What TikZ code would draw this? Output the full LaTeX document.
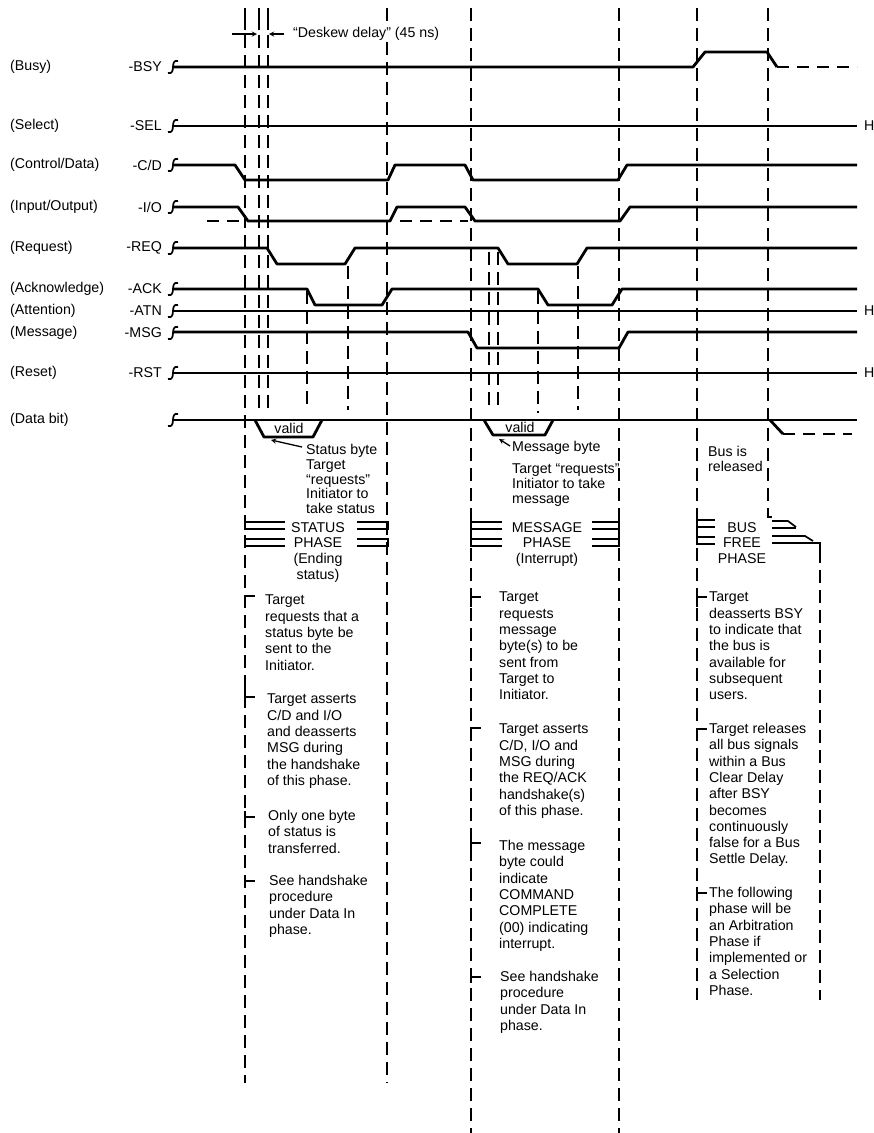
\documentclass[tikz,border=0pt]{standalone}
\usepackage{fontspec}
\setmainfont{Liberation Sans}
\newcommand{\sigfont}{\fontsize{14.2}{16.3}\selectfont}
\newcommand{\brk}[1]{\draw[line width=1.7pt] (178,#1-6) .. controls (169,#1-8) and (177,#1+8) .. (168,#1+6);}
\newcommand{\phasemark}[3]{\draw[bar] (#1+#3,#2) -- (#1,#2) -- (#1,#2+7) -- (#1+#3,#2+7);}
\newcommand{\tickdown}[2]{\draw[bar] (#1,#2+10) -- (#1,#2) -- (#1+10,#2);}
\newcommand{\tickup}[2]{\draw[bar] (#1,#2-10) -- (#1,#2) -- (#1+10,#2);}
\newcommand{\tickmid}[2]{\draw[bar] (#1,#2-6) -- (#1,#2+6) (#1,#2) -- (#1+10,#2);}
\tikzset{
    every node/.style={font=\sigfont, inner sep=0pt},
    desc/.style={anchor=west},
    signame/.style={anchor=east},
    sig/.style={line width=2.8pt, line join=round},
    sigdash/.style={sig, dash pattern=on 12pt off 8pt},
    grid/.style={line width=1.9pt, dash pattern=on 13pt off 7pt},
    bar/.style={line width=1.7pt},
    pointer/.style={->, >=stealth, line width=1.3pt},
    note/.style={anchor=north west, align=left},
    title/.style={anchor=north, align=center, font=\fontsize{14.2}{15.7}\selectfont}
}
\begin{document}
\begin{tikzpicture}[x=1pt,y=-1pt]
\useasboundingbox (0,0) rectangle (874,1133);

\foreach \id/\y/\desc/\sname in {bsy/67/(Busy)/-BSY, sel/126/(Select)/-SEL, cd/165/{(Control/Data)}/{-C/D},
    io/207/{(Input/Output)}/{-I/O}, req/248/(Request)/-REQ, ack/289/(Acknowledge)/-ACK,
    atn/311/(Attention)/-ATN, msg/333/(Message)/-MSG, rst/373/(Reset)/-RST}{
    \node[desc] (desc-\id) at (10,\y) {\desc};
    \node[signame] (name-\id) at (162,\y) {\sname};
    \brk{\y}
}
\node[desc] (desc-data) at (10,420) {(Data bit)};
\brk{420}

\foreach \x/\ya/\yb in {245/35/1083, 259/35/410, 268/35/410, 307/291/410, 348/266/410, 387/42/1083,
    471/8/1133, 489/252/410, 498/252/410, 538/291/413, 578/266/410, 619/8/1133,
    697/8/1000, 768/8/513, 820/550/1000}
    \draw[grid] (\x,\ya) -- (\x,\yb);
\foreach \x in {245,259,268}
    \draw[bar] (\x,8) -- (\x,30);
\draw[grid] (387,8) -- (387,28);

\draw[pointer] (232,34) -- (257,34);
\draw[pointer] (284,34) -- (269,34);
\node[desc] (deskew) at (293,34) {``Deskew delay'' (45 ns)};

\draw[sig] (173,67) -- (693,67) -- (705,52) -- (767,52) -- (777,67);
\draw[sigdash] (777,67) -- (857,67);
\draw[sig] (173,126) -- (857,126);
\draw[sig] (173,165) -- (235,165) -- (245,180) -- (388,180) -- (395,165) -- (465,165) -- (473,180) -- (618,180) -- (627,165) -- (857,165);
\draw[sig] (173,207) -- (238,207) -- (248,221) -- (390,221) -- (397,207) -- (465,207) -- (475,221) -- (620,221) -- (630,207) -- (857,207);
\draw[sigdash] (207,221) -- (243,221);
\draw[sigdash] (400,221) -- (468,221);
\draw[sig] (173,248) -- (267,248) -- (277,264) -- (345,264) -- (355,248) -- (498,248) -- (508,264) -- (577,264) -- (587,248) -- (857,248);
\draw[sig] (173,289) -- (307,289) -- (315,305) -- (382,305) -- (392,289) -- (538,289) -- (548,305) -- (612,305) -- (622,289) -- (857,289);
\draw[sig] (173,311) -- (857,311);
\draw[sig] (173,332) -- (468,332) -- (477,348) -- (619,348) -- (628,332) -- (857,332);
\draw[sig] (173,373) -- (857,373);
\draw[sig] (173,420) -- (857,420);
\draw[sig] (255,420) -- (264,437) -- (313,437) -- (322,420);
\draw[sig] (484,420) -- (493,435) -- (545,435) -- (553,420);
\draw[sig] (770,420) -- (783,434);
\draw[sigdash] (783,434) -- (852,434);
\foreach \y/\id in {126/sel, 311/atn, 373/rst}
    \node[desc] (high-\id) at (864,\y) {H};

\node (valid-status) at (289,428) {valid};
\node (valid-msg) at (520,427) {valid};

\node[note, font=\fontsize{14.2}{14.8}\selectfont] (status-byte) at (306,444) {Status byte\\Target\\``requests''\\Initiator to\\take status};
\draw[pointer] (302,447) -- (271,440);
\node[desc] (msg-byte) at (512,448) {Message byte};
\draw[pointer] (510,446) -- (499,439);
\node[note, font=\fontsize{14.2}{15}\selectfont] (msg-take) at (512,464) {Target ``requests''\\Initiator to take\\message};
\node[note, font=\fontsize{14.2}{15}\selectfont] (released) at (708,446) {Bus is\\released};

\phasemark{245}{522}{40}
\phasemark{245}{539}{40}
\phasemark{388}{522}{-31}
\phasemark{388}{539}{-31}
\node[title] (status-phase) at (318,522) {STATUS\\PHASE\\(Ending\\status)};
\phasemark{471}{522}{31}
\phasemark{471}{539}{31}
\phasemark{619}{522}{-27}
\phasemark{619}{539}{-27}
\node[title] (msg-phase) at (547,522) {MESSAGE\\PHASE\\(Interrupt)};
\phasemark{697}{520}{18}
\phasemark{697}{537}{18}
\draw[bar] (768,513) -- (768,517) -- (772,517);
\draw[bar] (772,521) -- (788,521) -- (796,527);
\draw[bar] (772,528) -- (796,528);
\draw[bar] (772,536) -- (805,536) -- (813,541);
\draw[bar] (772,543) -- (820,543) -- (820,550);
\node[title] (bus-phase) at (742,522) {BUS\\FREE\\PHASE};

\tickdown{245}{596}
\node[note] (status-a) at (265,595) {Target\\requests that a\\status byte be\\sent to the\\Initiator.};
\tickup{245}{697}
\node[note] (status-b) at (267,694) {Target asserts\\C/D and I/O\\and deasserts\\MSG during\\the handshake\\of this phase.};
\tickmid{245}{817}
\node[note] (status-c) at (268,810) {Only one byte\\of status is\\transferred.};
\tickmid{245}{881}
\node[note] (status-d) at (269,875) {See handshake\\procedure\\under Data In\\phase.};

\tickdown{471}{597}
\node[note] (msg-a) at (499,592) {Target\\requests\\message\\byte(s) to be\\sent from\\Target to\\Initiator.};
\tickdown{471}{728}
\node[note] (msg-b) at (499,724) {Target asserts\\C/D, I/O and\\MSG during\\the REQ/ACK\\handshake(s)\\of this phase.};
\tickmid{471}{843}
\node[note] (msg-c) at (499,840) {The message\\byte could\\indicate\\COMMAND\\COMPLETE\\(00) indicating\\interrupt.};
\tickmid{471}{977}
\node[note] (msg-d) at (500,971) {See handshake\\procedure\\under Data In\\phase.};

\tickdown{697}{597}
\node[note] (bus-a) at (709,592) {Target\\deasserts BSY\\to indicate that\\the bus is\\available for\\subsequent\\users.};
\tickdown{697}{729}
\node[note] (bus-b) at (709,723) {Target releases\\all bus signals\\within a Bus\\Clear Delay\\after BSY\\becomes\\continuously\\false for a Bus\\Settle Delay.};
\tickmid{697}{893}
\node[note] (bus-c) at (709,887) {The following\\phase will be\\an Arbitration\\Phase if\\implemented or\\a Selection\\Phase.};
\end{tikzpicture}
\end{document}
